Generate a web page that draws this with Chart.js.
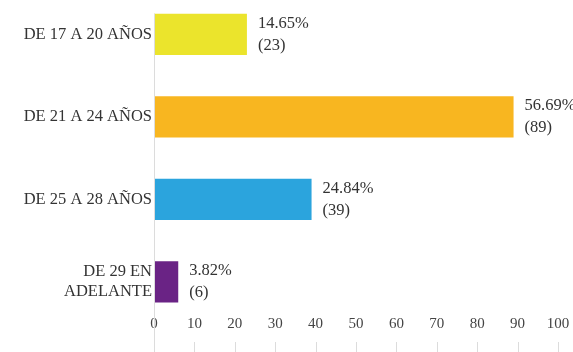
<!DOCTYPE html>
<html>
<head>
<meta charset="utf-8">
<script src="https://cdn.jsdelivr.net/npm/chart.js@4"></script>
<style>
  html, body { margin: 0; padding: 0; background: #fff; overflow: hidden; }
  #wrap { width: 573px; height: 352px; overflow: hidden; }
  #ageChart { display: block; margin-top: -7px; }
</style>
</head>
<body>
<div id="wrap"><canvas id="ageChart" width="573" height="359"></canvas></div>
<script>
// age groups, counts and share of respondents
var categories = ['DE 17 A 20 AÑOS', 'DE 21 A 24 AÑOS', 'DE 25 A 28 AÑOS', ['DE 29 EN', 'ADELANTE']];
var counts = [23, 89, 39, 6];
var percents = ['14.65%', '56.69%', '24.84%', '3.82%'];
var barColors = ['#ebe42c', '#f8b620', '#2ba4dd', '#6a2385'];
var xTicks = [0, 10, 20, 30, 40, 50, 60, 70, 80, 90, 100];

var serif = '"Liberation Serif", "Times New Roman", serif';

// value labels beside the bars, the left axis line and the short marks under the x labels
var decorPlugin = {
  id: 'decor',
  afterDatasetsDraw: function (chart) {
    var ctx = chart.ctx;
    var meta = chart.getDatasetMeta(0);
    ctx.save();
    ctx.font = '16.5px ' + serif;
    ctx.fillStyle = '#333';
    ctx.textAlign = 'left';
    ctx.textBaseline = 'middle';
    meta.data.forEach(function (bar, i) {
      ctx.fillText(percents[i], bar.x + 11, bar.y - 11);
      ctx.fillText('(' + counts[i] + ')', bar.x + 11, bar.y + 11);
    });

    var xScale = chart.scales.x;
    var first = meta.data[0];
    var topY = first.y - first.height / 2;
    ctx.strokeStyle = '#dcdcdc';
    ctx.lineWidth = 1;
    ctx.beginPath();
    var x0 = Math.round(xScale.getPixelForValue(0)) + 0.5;
    ctx.moveTo(x0, topY);
    ctx.lineTo(x0, chart.height);
    xTicks.forEach(function (t) {
      var px = Math.round(xScale.getPixelForValue(t)) + 0.5;
      ctx.moveTo(px, xScale.top + 19);
      ctx.lineTo(px, chart.height);
    });
    ctx.stroke();
    ctx.restore();
  }
};

var ctx = document.getElementById('ageChart').getContext('2d');
var ageChart = new Chart(ctx, {
  type: 'bar',
  data: {
    labels: categories,
    datasets: [{
      data: counts,
      backgroundColor: barColors,
      borderWidth: 0,
      barPercentage: 0.5,
      categoryPercentage: 1
    }]
  },
  options: {
    indexAxis: 'y',
    responsive: false,
    animation: false,
    layout: {
      padding: { top: 0, right: 15, bottom: 0, left: 0 }
    },
    plugins: {
      legend: { display: false },
      tooltip: { enabled: false }
    },
    scales: {
      x: {
        min: 0,
        max: 100,
        afterBuildTicks: function (scale) {
          scale.ticks = xTicks.map(function (v) { return { value: v }; });
        },
        afterFit: function (scale) {
          scale.height = 29;
          scale.paddingLeft = 0;
          scale.paddingRight = 0;
        },
        grid: { display: false, drawTicks: false },
        border: { display: false },
        ticks: {
          mirror: true,
          padding: -10,
          color: '#444',
          font: { family: serif, size: 15 },
          maxRotation: 0
        }
      },
      y: {
        afterFit: function (scale) {
          scale.width = 154;
          scale.paddingTop = 0;
          scale.paddingBottom = 0;
        },
        grid: { display: false, drawTicks: false },
        border: { display: false },
        ticks: {
          padding: 2,
          color: '#333',
          font: { family: serif, size: 16.5, lineHeight: 1.25 }
        }
      }
    }
  },
  plugins: [decorPlugin]
});
</script>
</body>
</html>
